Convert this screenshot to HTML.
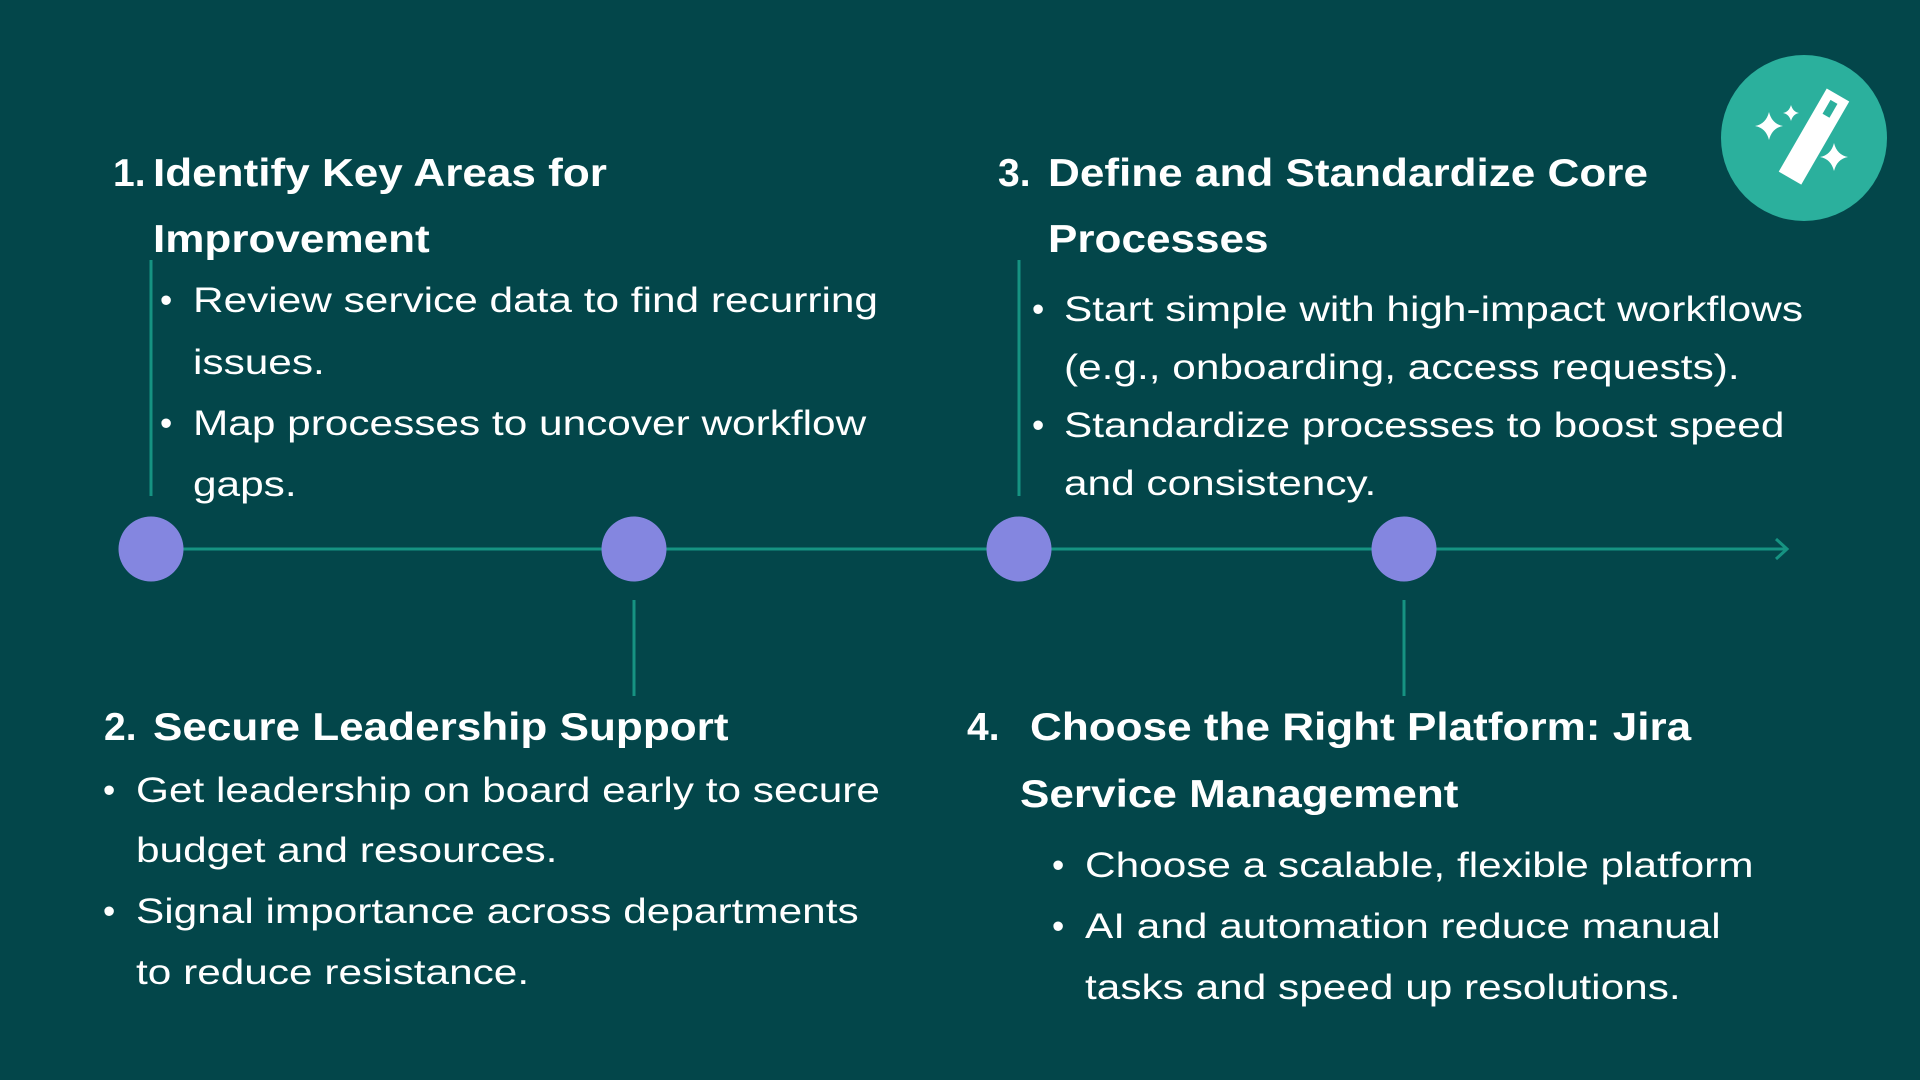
<!DOCTYPE html>
<html><head><meta charset="utf-8"><style>
body{margin:0;width:1920px;height:1080px;background:#03464a;position:relative;overflow:hidden;font-family:"Liberation Sans",sans-serif;color:#fff}
.t{position:absolute;white-space:nowrap;line-height:1;transform-origin:0 0}
.h{font-size:39px;font-weight:bold;transform:scaleX(1.13)}
.b{font-size:35px;transform:scaleX(1.21)}
.n{transform:none}
</style></head><body>
<svg width="1920" height="1080" style="position:absolute;left:0;top:0">
<g stroke="#169382" stroke-width="3" fill="none">
<line x1="151" y1="549" x2="1786" y2="549"/>
<polyline points="1776,539 1787,549 1776,559"/>
<line x1="151" y1="260" x2="151" y2="496"/>
<line x1="1019" y1="260" x2="1019" y2="496"/>
<line x1="634" y1="600" x2="634" y2="696"/>
<line x1="1404" y1="600" x2="1404" y2="696"/>
</g>
<g fill="#8486e0">
<circle cx="151" cy="549" r="32.5"/>
<circle cx="634" cy="549" r="32.5"/>
<circle cx="1019" cy="549" r="32.5"/>
<circle cx="1404" cy="549" r="32.5"/>
</g>
<circle cx="1804" cy="138" r="83" fill="#2bb09d"/>
<g fill="#fff">
<g transform="translate(1812,140) rotate(30)">
<rect x="-13" y="-52" width="26" height="96"/>
<rect x="-4" y="-44" width="8" height="16" fill="#2bb09d"/>
</g>
<path d="M1769,112 q3,12 14,14 q-11,2 -14,14 q-3,-12 -14,-14 q11,-2 14,-14z"/>
<path d="M1791,105 q2,7 8,8 q-6,1 -8,8 q-2,-7 -8,-8 q6,-1 8,-8z"/>
<path d="M1834,143 q3,12 14,14 q-11,2 -14,14 q-3,-12 -14,-14 q11,-2 14,-14z"/>
</g>
</svg>

<div class="t h n" style="left:113px;top:154px">1.</div>
<div class="t h" style="left:153px;top:154px">Identify Key Areas for</div>
<div class="t h" style="left:153px;top:220px">Improvement</div>
<div class="t b n" style="left:160px;top:283px">•</div>
<div class="t b" style="left:193px;top:283px">Review service data to find recurring</div>
<div class="t b" style="left:193px;top:345px">issues.</div>
<div class="t b n" style="left:160px;top:406px">•</div>
<div class="t b" style="left:193px;top:406px">Map processes to uncover workflow</div>
<div class="t b" style="left:193px;top:467px">gaps.</div>

<div class="t h n" style="left:998px;top:154px">3.</div>
<div class="t h" style="left:1048px;top:154px">Define and Standardize Core</div>
<div class="t h" style="left:1048px;top:220px">Processes</div>
<div class="t b n" style="left:1032px;top:292px">•</div>
<div class="t b" style="left:1064px;top:292px">Start simple with high-impact workflows</div>
<div class="t b" style="left:1064px;top:350px">(e.g., onboarding, access requests).</div>
<div class="t b n" style="left:1032px;top:408px">•</div>
<div class="t b" style="left:1064px;top:408px">Standardize processes to boost speed</div>
<div class="t b" style="left:1064px;top:466px">and consistency.</div>

<div class="t h n" style="left:104px;top:708px">2.</div>
<div class="t h" style="left:153px;top:708px">Secure Leadership Support</div>
<div class="t b n" style="left:103px;top:773px">•</div>
<div class="t b" style="left:136px;top:773px">Get leadership on board early to secure</div>
<div class="t b" style="left:136px;top:833px">budget and resources.</div>
<div class="t b n" style="left:103px;top:894px">•</div>
<div class="t b" style="left:136px;top:894px">Signal importance across departments</div>
<div class="t b" style="left:136px;top:955px">to reduce resistance.</div>

<div class="t h n" style="left:967px;top:708px">4.</div>
<div class="t h" style="left:1030px;top:708px">Choose the Right Platform: Jira</div>
<div class="t h" style="left:1020px;top:775px">Service Management</div>
<div class="t b n" style="left:1052px;top:848px">•</div>
<div class="t b" style="left:1085px;top:848px">Choose a scalable, flexible platform</div>
<div class="t b n" style="left:1052px;top:909px">•</div>
<div class="t b" style="left:1085px;top:909px">AI and automation reduce manual</div>
<div class="t b" style="left:1085px;top:970px">tasks and speed up resolutions.</div>
</body></html>
